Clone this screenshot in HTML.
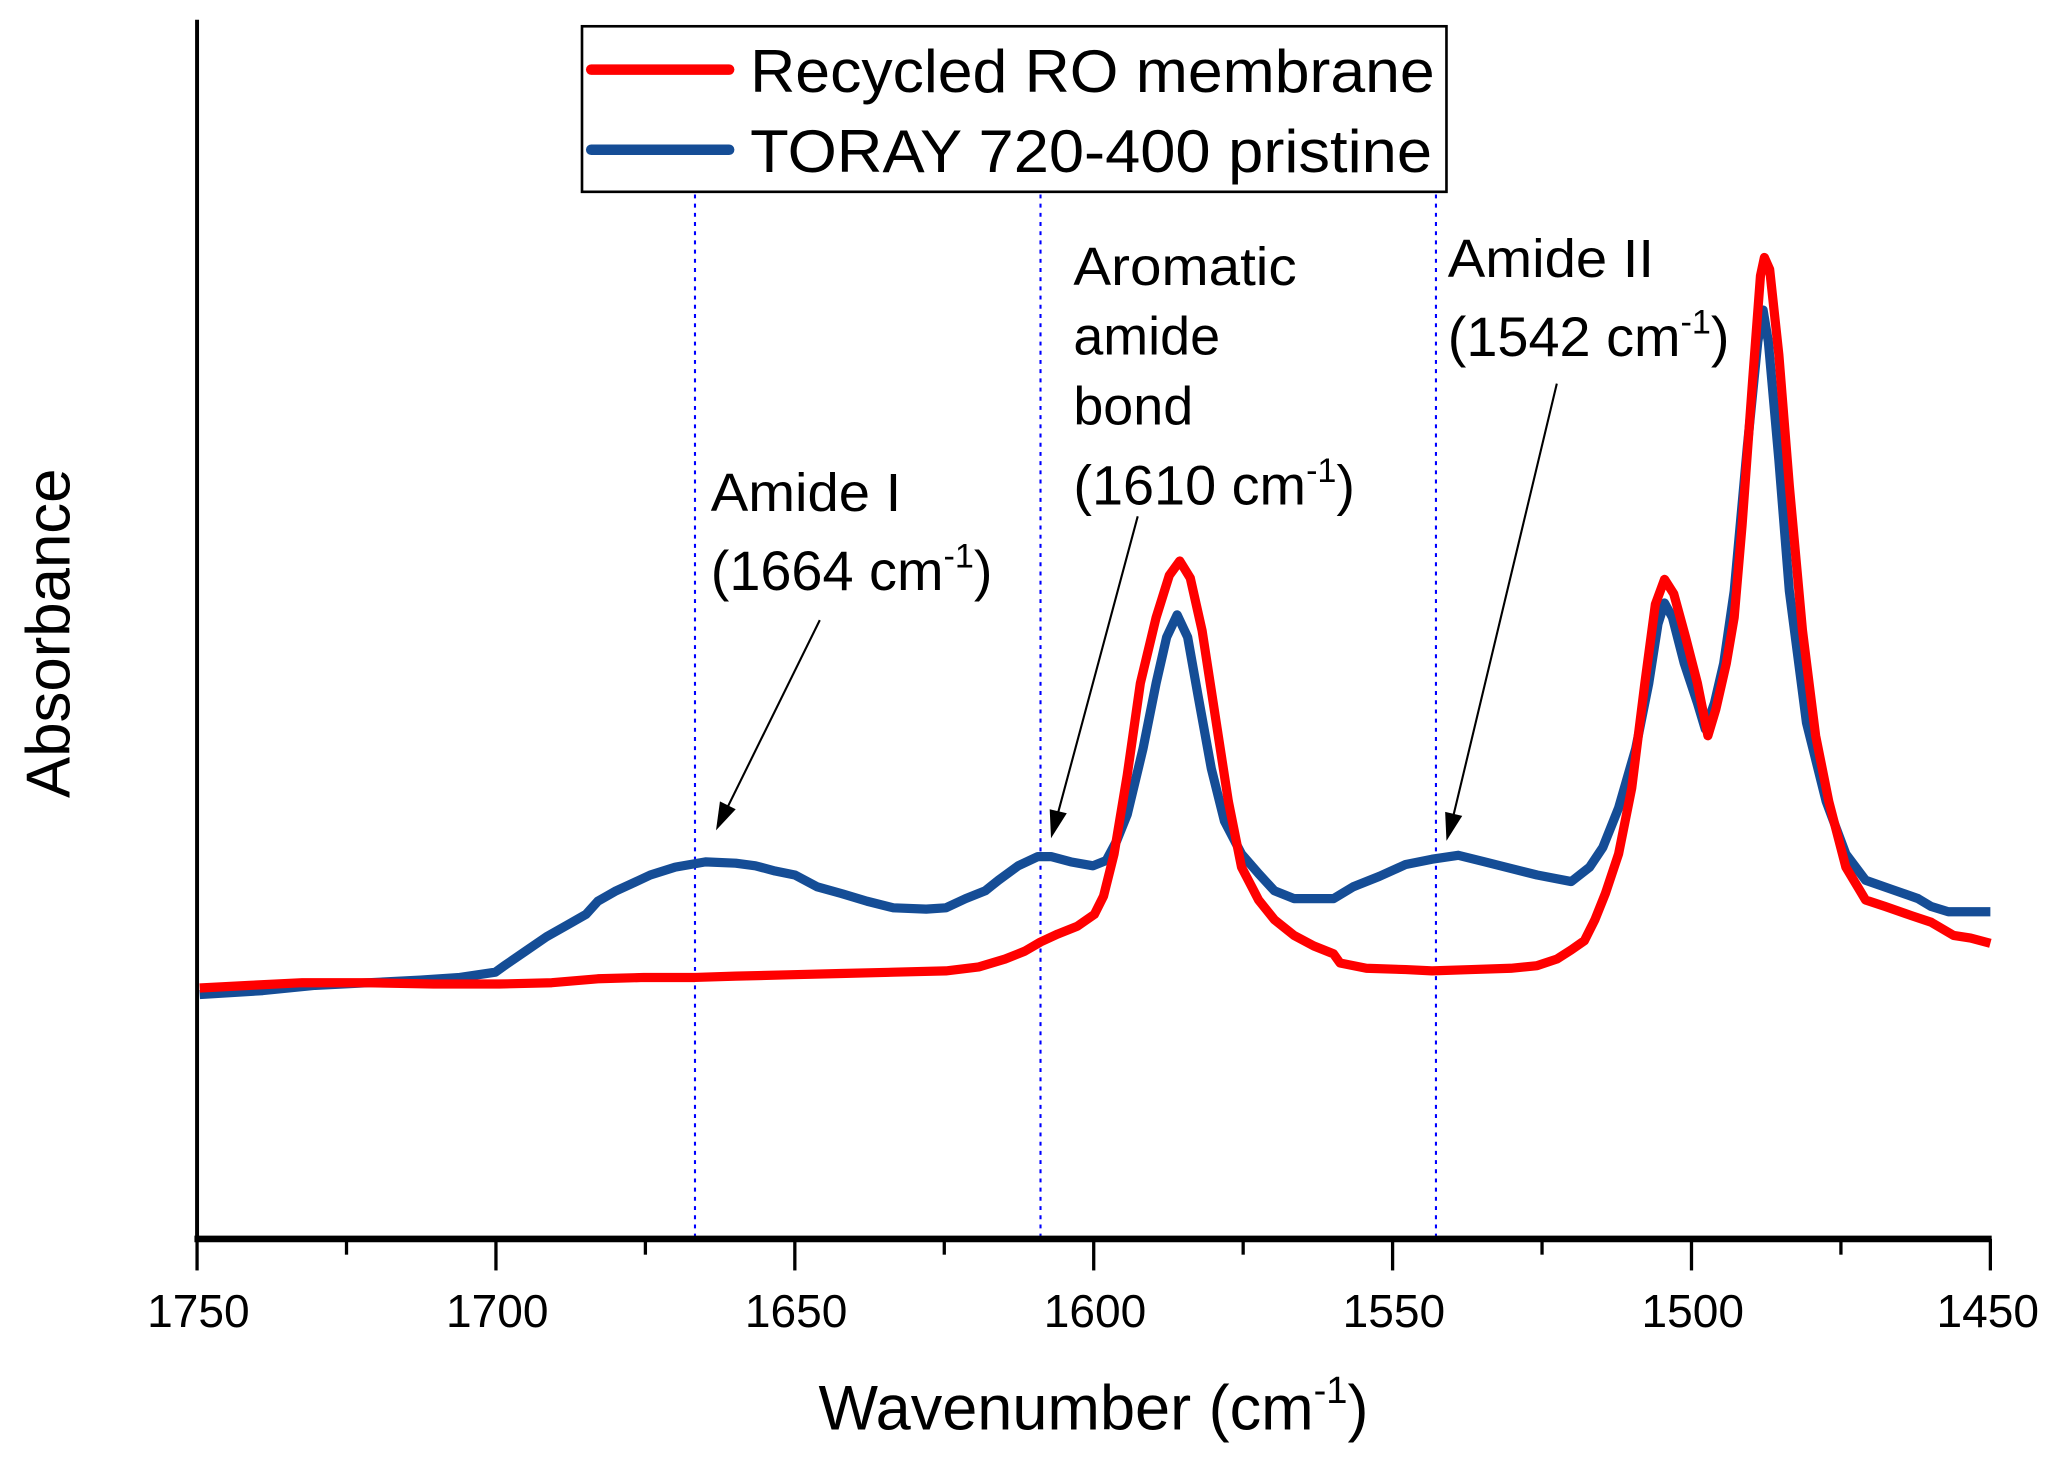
<!DOCTYPE html>
<html><head><meta charset="utf-8"><style>html,body{margin:0;padding:0;background:#fff}svg{display:block}</style></head>
<body>
<svg width="2060" height="1457" viewBox="0 0 1568 1109" preserveAspectRatio="none" xmlns="http://www.w3.org/2000/svg" font-family="Liberation Sans, Arial, sans-serif">
<rect width="1568" height="1109" fill="#fff"/>
<g stroke="#0000ff" stroke-width="1.6" stroke-dasharray="3,4">
<line x1="529" y1="148" x2="529" y2="943"/>
<line x1="792" y1="148" x2="792" y2="943"/>
<line x1="1093" y1="148" x2="1093" y2="943"/>
</g>
<line x1="150" y1="15" x2="150" y2="945" stroke="#000" stroke-width="3"/>
<line x1="148" y1="943" x2="1516" y2="943" stroke="#000" stroke-width="5"/>
<g stroke="#000" stroke-width="2.5">
<line x1="150" y1="943" x2="150" y2="967"/><line x1="377.5" y1="943" x2="377.5" y2="967"/><line x1="605" y1="943" x2="605" y2="967"/><line x1="832.5" y1="943" x2="832.5" y2="967"/><line x1="1060" y1="943" x2="1060" y2="967"/><line x1="1287.5" y1="943" x2="1287.5" y2="967"/><line x1="1515" y1="943" x2="1515" y2="967"/>
<line x1="263.75" y1="943" x2="263.75" y2="955"/><line x1="491.25" y1="943" x2="491.25" y2="955"/><line x1="718.75" y1="943" x2="718.75" y2="955"/><line x1="946.25" y1="943" x2="946.25" y2="955"/><line x1="1173.75" y1="943" x2="1173.75" y2="955"/><line x1="1401.25" y1="943" x2="1401.25" y2="955"/>
</g>
<g font-size="35" text-anchor="middle" fill="#000">
<text x="151" y="1010" textLength="78" lengthAdjust="spacingAndGlyphs">1750</text><text x="378.5" y="1010" textLength="78" lengthAdjust="spacingAndGlyphs">1700</text><text x="606" y="1010" textLength="78" lengthAdjust="spacingAndGlyphs">1650</text><text x="833.5" y="1010" textLength="78" lengthAdjust="spacingAndGlyphs">1600</text><text x="1061" y="1010" textLength="78" lengthAdjust="spacingAndGlyphs">1550</text><text x="1288.5" y="1010" textLength="78" lengthAdjust="spacingAndGlyphs">1500</text><text x="1513" y="1010" textLength="78" lengthAdjust="spacingAndGlyphs">1450</text>
</g>
<text x="623" y="1088" font-size="48">Wavenumber (cm<tspan font-size="29" dy="-20">-1</tspan><tspan dy="20">)</tspan></text>
<text transform="translate(53,482) rotate(-90)" font-size="47" text-anchor="middle">Absorbance</text>
<polyline fill="none" stroke="#154d96" stroke-width="7" stroke-linejoin="round" points="152,757 200,754 240,750 281,748 320,746 350,744 377,740 384,735 400,724 416,713 432,704 446,696 455,686 469,678 480,673 495,666 514,660 537,656 560,657 575,659 590,663 605,666 622,675 640,680 660,686 680,691 705,692 720,691 735,684 750,678 760,670 775,659 790,652 800,652 815,656 832,659 842,655 850,640 858,620 870,570 880,520 888,485 896,468 904,485 912,530 922,585 932,625 945,650 958,665 970,678 985,684 1015,684 1030,675 1050,667 1070,658 1090,654 1110,651 1130,656 1150,661 1170,666 1196,671 1210,660 1220,645 1232,615 1245,570 1255,520 1262,475 1267,459 1273,470 1282,505 1292,535 1298,555 1305,535 1312,505 1320,450 1330,340 1338,260 1342,236 1346,260 1354,350 1362,450 1375,550 1390,610 1405,650 1420,670 1440,677 1460,684 1470,690 1483,694 1515,694"/>
<polyline fill="none" stroke="#ff0000" stroke-width="7" stroke-linejoin="round" points="152,752 190,750 230,748 280,748 330,749 380,749 420,748 455,745 490,744 529,744 560,743 600,742 640,741 680,740 720,739 745,736 765,730 780,724 792,717 805,711 820,705 833,696 840,682 848,650 858,590 868,520 880,470 890,438 898,427 906,440 915,480 925,545 935,610 945,660 958,685 970,700 985,712 1000,720 1015,726 1020,733 1040,737 1070,738 1090,739 1120,738 1150,737 1170,735 1185,730 1196,723 1206,716 1214,700 1222,680 1232,650 1242,600 1252,520 1260,460 1267,441 1274,452 1283,485 1292,520 1300,560 1306,540 1314,505 1320,470 1326,400 1334,290 1340,210 1343,196 1347,205 1354,270 1362,370 1372,480 1382,560 1392,610 1405,660 1420,685 1435,690 1455,697 1470,702 1487,712 1500,714 1515,718"/>
<g font-size="41" fill="#000">
<text x="541" y="389" textLength="145" lengthAdjust="spacingAndGlyphs">Amide I</text>
<text x="541" y="449" font-size="42.5">(1664 cm<tspan font-size="26" dy="-17">-1</tspan><tspan dy="17">)</tspan></text>
<text x="817" y="217" textLength="170" lengthAdjust="spacingAndGlyphs">Aromatic</text>
<text x="817" y="270">amide</text>
<text x="817" y="323">bond</text>
<text x="817" y="384" font-size="42.5">(1610 cm<tspan font-size="26" dy="-17">-1</tspan><tspan dy="17">)</tspan></text>
<text x="1102" y="211" textLength="157" lengthAdjust="spacingAndGlyphs">Amide II</text>
<text x="1102" y="271" font-size="42.5">(1542 cm<tspan font-size="26" dy="-17">-1</tspan><tspan dy="17">)</tspan></text>
</g>
<g stroke="#000" stroke-width="1.6">
<line x1="624" y1="472" x2="553" y2="616"/>
<line x1="866" y1="393" x2="805" y2="620"/>
<line x1="1185" y1="292" x2="1106" y2="622"/>
</g>
<g fill="#000">
<polygon points="545,632 548,610 560,616"/>
<polygon points="800,638 799,616 812,619"/>
<polygon points="1101,640 1100,618 1113,621"/>
</g>
<rect x="443" y="20" width="658" height="126" fill="#fff" stroke="#000" stroke-width="2"/>
<line x1="450" y1="53" x2="555" y2="53" stroke="#ff0000" stroke-width="8" stroke-linecap="round"/>
<line x1="450" y1="114" x2="555" y2="114" stroke="#154d96" stroke-width="8" stroke-linecap="round"/>
<g font-size="46" fill="#000">
<text x="571" y="70" textLength="521" lengthAdjust="spacingAndGlyphs">Recycled RO membrane</text>
<text x="571" y="131" textLength="519" lengthAdjust="spacingAndGlyphs">TORAY 720-400 pristine</text>
</g>
</svg>
</body></html>
